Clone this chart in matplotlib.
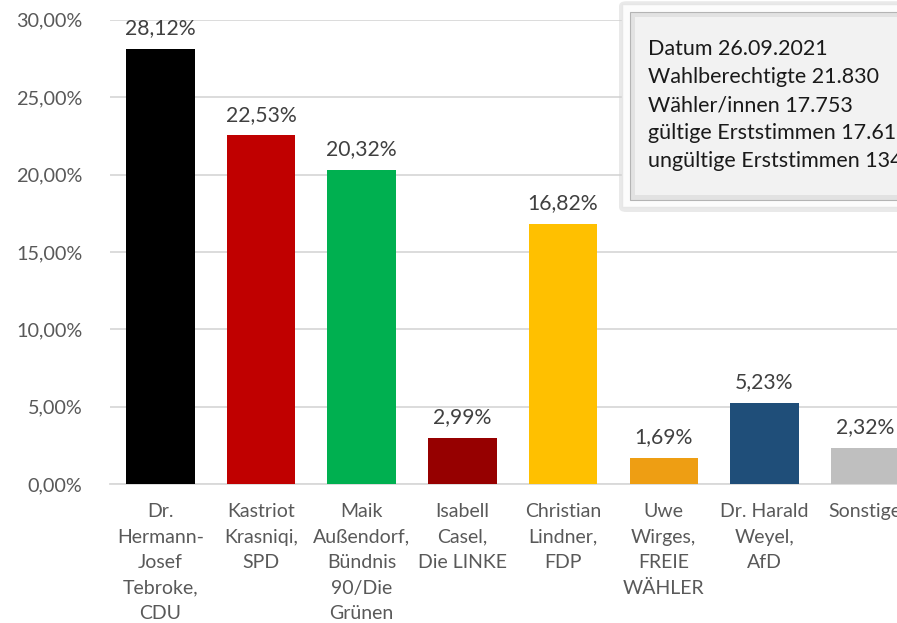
import matplotlib.pyplot as plt
from matplotlib.patches import FancyBboxPatch, Rectangle
from matplotlib.ticker import FuncFormatter

# data
candidates = ['Dr.\nHermann-\nJosef\nTebroke,\nCDU', 'Kastriot\nKrasniqi,\nSPD',
              'Maik\nAußendorf,\nBündnis\n90/Die\nGrünen', 'Isabell\nCasel,\nDie LINKE',
              'Christian\nLindner,\nFDP', 'Uwe\nWirges,\nFREIE\nWÄHLER',
              'Dr. Harald\nWeyel,\nAfD', 'Sonstige']
shares = [28.12, 22.53, 20.32, 2.99, 16.82, 1.69, 5.23, 2.32]
colors = ['#000000', '#c00000', '#00b050', '#960000', '#ffc000', '#ee9e13', '#1f4e79', '#bfbfbf']
info_lines = ['Datum 26.09.2021', 'Wahlberechtigte 21.830', 'Wähler/innen 17.753',
              'gültige Erststimmen 17.619', 'ungültige Erststimmen 134']

plt.rcParams['font.family'] = ['Lato', 'DejaVu Sans']

fig = plt.figure(figsize=(8.97, 6.23), dpi=100)
ax = fig.add_axes([0.1226, 0.2231, 0.898, 0.745])

x = range(len(shares))
ax.bar(x, shares, width=0.68, color=colors, zorder=3)
for i, v in enumerate(shares):
    ax.text(i, v + 0.7, f'{v:.2f}%'.replace('.', ','), ha='center', va='bottom',
            fontsize=15.2, color='#404040', zorder=4)

ax.set_xlim(-0.5, len(shares) - 0.5)
ax.set_ylim(0, 30)
ax.set_yticks(range(0, 31, 5))
ax.yaxis.set_major_formatter(FuncFormatter(lambda v, p: f'{v:.2f}%'.replace('.', ',')))
ax.grid(axis='y', color='#d9d9d9', linewidth=1.3, zorder=0)
ax.set_xticks(list(x))
ax.set_xticklabels(candidates, fontsize=14, color='#595959', linespacing=1.6, va='top')
ax.tick_params(axis='y', length=0, labelsize=14.3, labelcolor='#595959', pad=20)
ax.tick_params(axis='x', length=0, pad=14)
for s in ['top', 'right', 'left']:
    ax.spines[s].set_visible(False)
ax.spines['bottom'].set_color('#d9d9d9')
ax.spines['bottom'].set_linewidth(1.3)

# info box (clipped on the right like the original)
W, H = 897, 623
def fx(px):
    return px / W
def fy(py):
    return 1 - py / H

shadow = FancyBboxPatch((fx(619), fy(212)), fx(300), fy(0) - fy(212) - 0.002,
                        boxstyle='round,pad=0,rounding_size=0.008', transform=fig.transFigure,
                        facecolor='#d0d0d0', edgecolor='none', alpha=0.45, zorder=5)
fig.patches.append(shadow)
outer = Rectangle((fx(622), fy(207)), fx(300), fy(4) - fy(207), transform=fig.transFigure,
                  facecolor='#fcfcfc', edgecolor='#e6e6e6', linewidth=1, zorder=6)
fig.patches.append(outer)
bevel = Rectangle((fx(630), fy(200)), fx(300), fy(12) - fy(200), transform=fig.transFigure,
                  facecolor='#e2e2e2', edgecolor='#b4b4b4', linewidth=0.8, zorder=7)
fig.patches.append(bevel)
face = Rectangle((fx(635), fy(195)), fx(300), fy(17) - fy(195), transform=fig.transFigure,
                 facecolor='#f2f2f2', edgecolor='none', zorder=8)
fig.patches.append(face)
for k, line in enumerate(info_lines):
    fig.text(fx(648), fy(49 + 28 * k), line, fontsize=15.5, color='#1a1a1a',
             ha='left', va='center', zorder=9)

fig.savefig('out.png', dpi=100)
